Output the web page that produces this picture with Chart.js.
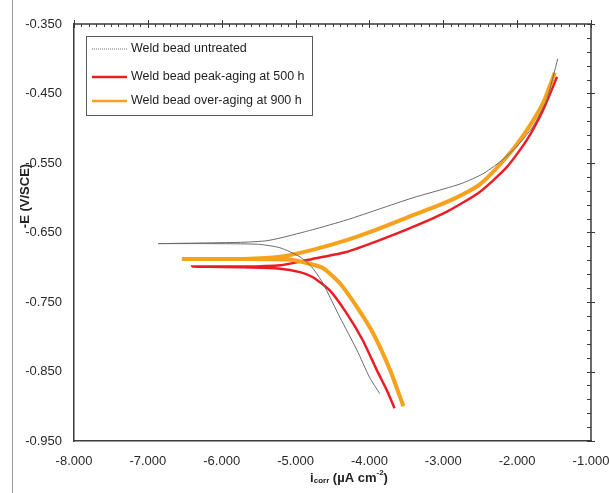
<!DOCTYPE html>
<html>
<head>
<meta charset="utf-8">
<script src="https://cdn.jsdelivr.net/npm/chart.js@4.4.1/dist/chart.umd.min.js"></script>
<style>
  html, body { margin: 0; padding: 0; background: #fff; }
  #wrap { width: 609px; height: 493px; }
</style>
</head>
<body>
<div id="wrap"><canvas id="tafel" width="609" height="493"></canvas></div>
<script>
// Axes
const xTicks = [-8, -7, -6, -5, -4, -3, -2, -1];
const yTicks = [-0.95, -0.85, -0.75, -0.65, -0.55, -0.45, -0.35];

// Courbes : cathodique (bas) -> Ecorr -> queue gauche -> anodique
const untreatedI = [-3.86, -4.00, -4.17, -4.40, -4.63, -4.77, -4.94, -5.21, -5.50, -6.20, -6.86,
  -6.20, -5.70, -5.40, -5.21, -4.77, -4.31, -3.86, -3.41, -2.95, -2.74, -2.47, -2.24, -2.01, -1.79, -1.60, -1.45];
const untreatedE = [-0.882, -0.858, -0.819, -0.772, -0.723, -0.701, -0.685, -0.672, -0.667, -0.666, -0.666,
  -0.665, -0.664, -0.662, -0.658, -0.646, -0.632, -0.616, -0.600, -0.586, -0.579, -0.566, -0.549, -0.527, -0.498, -0.459, -0.400];

const peakI = [-3.66, -3.76, -3.90, -4.09, -4.31, -4.54, -4.77, -4.94, -5.21, -5.70, -6.40,
  -5.70, -5.20, -4.94, -4.77, -4.31, -3.86, -3.41, -2.95, -2.51, -2.14, -1.87, -1.65, -1.46];
const peakE = [-0.903, -0.878, -0.848, -0.805, -0.766, -0.733, -0.714, -0.707, -0.702, -0.700, -0.699,
  -0.699, -0.697, -0.692, -0.688, -0.678, -0.661, -0.642, -0.620, -0.592, -0.556, -0.517, -0.474, -0.426];

const overI = [-3.54, -3.72, -3.95, -4.17, -4.40, -4.63, -4.85, -5.10, -5.70, -6.54,
  -5.70, -5.21, -4.77, -4.31, -3.86, -3.41, -2.95, -2.51, -2.14, -1.87, -1.65, -1.49];
const overE = [-0.900, -0.848, -0.795, -0.757, -0.723, -0.701, -0.694, -0.689, -0.688, -0.688,
  -0.688, -0.685, -0.675, -0.661, -0.644, -0.625, -0.606, -0.581, -0.541, -0.503, -0.464, -0.420];

const seriesLabels = [
  'Weld bead untreated',
  'Weld bead peak-aging at 500 h',
  'Weld bead over-aging at 900 h'
];

function toPoints(xs, ys) {
  return xs.map((x, i) => ({ x: x, y: ys[i] }));
}

const FONT = '"Liberation Sans", Arial, sans-serif';
const AXIS_COLOR = '#3a3a3a';

// Cadre, graduations secondaires, titres d'axes et légende encadrée
const decorPlugin = {
  id: 'decor',
  afterDraw(chart) {
    const ctx = chart.ctx;
    const a = chart.chartArea;
    const xs = chart.scales.x;
    const ys = chart.scales.y;

    ctx.save();
    // bordure gauche de la figure
    ctx.strokeStyle = '#9a9a9a';
    ctx.lineWidth = 1;
    ctx.beginPath();
    ctx.moveTo(12.5, 0);
    ctx.lineTo(12.5, chart.height);
    ctx.stroke();

    // haut et droite du cadre
    ctx.strokeStyle = AXIS_COLOR;
    ctx.lineWidth = 1.5;
    ctx.beginPath();
    ctx.moveTo(a.left, a.top);
    ctx.lineTo(a.right, a.top);
    ctx.lineTo(a.right, a.bottom);
    ctx.stroke();

    // graduations en haut (0.1) et à droite (0.02)
    ctx.lineWidth = 1;
    ctx.beginPath();
    for (let k = 0; k <= 70; k++) {
      const px = Math.round(xs.getPixelForValue(-8 + k * 0.1)) + 0.5;
      if (k % 10 === 0) {
        ctx.moveTo(px, a.top - 4);
        ctx.lineTo(px, a.top + 4);
      } else {
        ctx.moveTo(px, a.top);
        ctx.lineTo(px, a.top + 3);
      }
    }
    for (let k = 0; k <= 30; k++) {
      const py = Math.round(ys.getPixelForValue(-0.95 + k * 0.02)) + 0.5;
      if (k % 5 === 0) {
        ctx.moveTo(a.right - 4, py);
        ctx.lineTo(a.right + 4, py);
      } else {
        ctx.moveTo(a.right - 4, py);
        ctx.lineTo(a.right, py);
      }
    }
    ctx.stroke();

    // titre axe Y
    ctx.fillStyle = '#222';
    ctx.font = 'bold 13px ' + FONT;
    ctx.textAlign = 'center';
    ctx.textBaseline = 'middle';
    ctx.save();
    ctx.translate(25, 196);
    ctx.rotate(-Math.PI / 2);
    ctx.fillText('-E (V/SCE)', 0, 0);
    ctx.restore();

    // titre axe X : i_corr (µA cm^-2)
    const parts = [
      { t: 'i', f: 'bold 13px ' + FONT, dy: 0 },
      { t: 'corr', f: 'bold 8px ' + FONT, dy: 3 },
      { t: ' (µA cm', f: 'bold 13px ' + FONT, dy: 0 },
      { t: '-2', f: 'bold 8px ' + FONT, dy: -5 },
      { t: ')', f: 'bold 13px ' + FONT, dy: 0 }
    ];
    let total = 0;
    parts.forEach(p => { ctx.font = p.f; p.w = ctx.measureText(p.t).width; total += p.w; });
    let cx = 349 - total / 2;
    ctx.textAlign = 'left';
    parts.forEach(p => {
      ctx.font = p.f;
      ctx.fillText(p.t, cx, 478 + p.dy);
      cx += p.w;
    });

    // légende
    const box = { left: 86.5, top: 36.5, width: 226, height: 79 };
    ctx.fillStyle = '#fff';
    ctx.fillRect(box.left, box.top, box.width, box.height);
    ctx.strokeStyle = '#5a5a5a';
    ctx.lineWidth = 1;
    ctx.strokeRect(box.left, box.top, box.width, box.height);
    const rows = [49, 77, 101];
    ctx.font = '12.5px ' + FONT;
    ctx.textAlign = 'left';
    ctx.textBaseline = 'middle';
    chart.data.datasets.forEach((ds, i) => {
      ctx.strokeStyle = ds.borderColor;
      ctx.lineWidth = i === 0 ? 1 : 2.5;
      ctx.setLineDash(i === 0 ? [1, 1] : []);
      ctx.beginPath();
      ctx.moveTo(92, rows[i]);
      ctx.lineTo(127, rows[i]);
      ctx.stroke();
      ctx.setLineDash([]);
      ctx.fillStyle = '#1e1e1e';
      ctx.fillText(ds.label, 131, rows[i]);
    });
    ctx.restore();
  }
};

new Chart(document.getElementById('tafel'), {
  type: 'scatter',
  data: {
    datasets: [
      {
        label: seriesLabels[0],
        data: toPoints(untreatedI, untreatedE),
        showLine: true,
        borderColor: '#6a6a6a',
        borderWidth: 1,
        pointRadius: 0,
        tension: 0.2,
        order: 0
      },
      {
        label: seriesLabels[1],
        data: toPoints(peakI, peakE),
        showLine: true,
        borderColor: '#ec1c24',
        borderWidth: 2.5,
        pointRadius: 0,
        tension: 0.2,
        order: 2
      },
      {
        label: seriesLabels[2],
        data: toPoints(overI, overE),
        showLine: true,
        borderColor: '#f8a11c',
        borderWidth: 4,
        pointRadius: 0,
        tension: 0.2,
        order: 1
      }
    ]
  },
  options: {
    responsive: false,
    animation: false,
    devicePixelRatio: 1,
    layout: { padding: { top: 24, right: 18, left: 0, bottom: 0 } },
    plugins: {
      legend: { display: false },
      tooltip: { enabled: false }
    },
    scales: {
      x: {
        type: 'linear',
        min: -8,
        max: -1,
        afterBuildTicks: (scale) => { scale.ticks = xTicks.map(v => ({ value: v })); },
        afterFit: (scale) => {
          scale.height = 52;
          scale.paddingLeft = 0;
          scale.paddingRight = 0;
        },
        grid: { display: false, drawTicks: false },
        border: { display: true, color: AXIS_COLOR, width: 1.5 },
        ticks: {
          padding: 13,
          color: '#2a2a2a',
          font: { family: FONT, size: 13 },
          maxRotation: 0,
          callback: (v) => Number(v).toFixed(3)
        }
      },
      y: {
        type: 'linear',
        min: -0.95,
        max: -0.35,
        afterBuildTicks: (scale) => { scale.ticks = yTicks.map(v => ({ value: v })); },
        afterFit: (scale) => {
          scale.width = 74;
          scale.paddingTop = 0;
          scale.paddingBottom = 0;
        },
        grid: { display: false, drawTicks: false },
        border: { display: true, color: AXIS_COLOR, width: 1.5 },
        ticks: {
          padding: 12,
          color: '#2a2a2a',
          font: { family: FONT, size: 13 },
          callback: (v) => Number(v).toFixed(3)
        }
      }
    }
  },
  plugins: [decorPlugin]
});
</script>
</body>
</html>
